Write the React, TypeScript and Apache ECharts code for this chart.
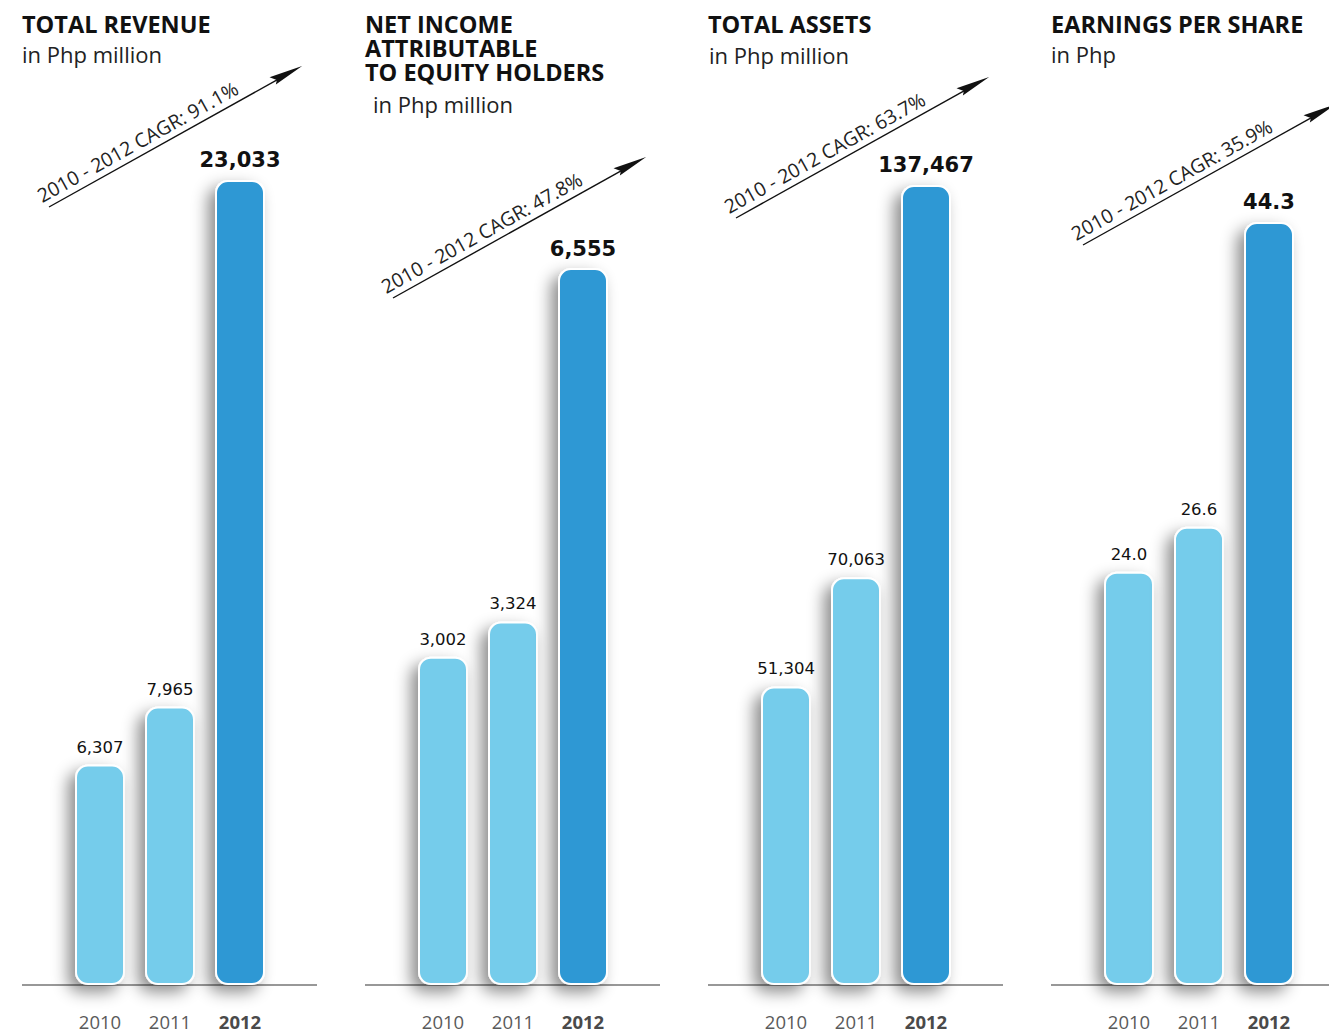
import React, { useEffect, useRef } from "react";
import * as echarts from "echarts";

// ---- data ----
const categories = ["2010", "2011", "2012"];
const totalRevenue = [6307, 7965, 23033];
const netIncome = [3002, 3324, 6555];
const totalAssets = [51304, 70063, 137467];
const earningsPerShare = [24.0, 26.6, 44.3];
const seriesValues = [totalRevenue, netIncome, totalAssets, earningsPerShare];
const decimals = [0, 0, 0, 1];
const axisMax = [23891, 7634, 143481, 48.48];
const titles = [
  ["TOTAL REVENUE"],
  ["NET INCOME", "ATTRIBUTABLE", "TO EQUITY HOLDERS"],
  ["TOTAL ASSETS"],
  ["EARNINGS PER SHARE"],
];
const subtitles = ["in Php million", "in Php million", "in Php million", "in Php"];
const cagrLabels = [
  "2010 - 2012 CAGR: 91.1%",
  "2010 - 2012 CAGR: 47.8%",
  "2010 - 2012 CAGR: 63.7%",
  "2010 - 2012 CAGR: 35.9%",
];

// ---- layout ----
const W = 1329;
const H = 1034;
const PANEL_X = [22, 365, 708, 1051];
const BASE_Y = 985;
const GRID_TOP = 150;
const SUB_Y = [53.5, 103.5, 54.5, 53.5];
const SUB_DX = [0, 8, 1, 0];
const ARROW_START = [
  [49, 207],
  [393, 298],
  [736, 218],
  [1083, 245],
];
const ARROW_DX = 253;
const ARROW_DY = 141;
const LIGHT = "#74CCEB";
const DARK = "#2E98D4";

function fmt(v: number, d: number) {
  return Number(v).toLocaleString("en-US", {
    minimumFractionDigits: d,
    maximumFractionDigits: d,
  });
}

export default function App() {
  const ref = useRef<HTMLDivElement>(null);
  useEffect(() => {
    if (!ref.current) return;
    const chart = echarts.init(ref.current, null, { renderer: "svg" });
    const ang = Math.atan2(ARROW_DY, ARROW_DX);
    const L = Math.sqrt(ARROW_DX * ARROW_DX + ARROW_DY * ARROW_DY);

    const graphic: any[] = [];
    PANEL_X.forEach((px, i) => {
      graphic.push({
        type: "text",
        x: px,
        y: 11.5,
        style: {
          text: titles[i].join("\n"),
          fontFamily: "Open Sans",
          fontWeight: "bold",
          fontSize: 23.5,
          lineHeight: 24,
          fill: "#111",
          verticalAlign: "top",
        },
      });
      graphic.push({
        type: "text",
        x: px + SUB_DX[i],
        y: SUB_Y[i],
        style: {
          text: subtitles[i],
          fontFamily: "Open Sans",
          fontSize: 22,
          fill: "#222",
          verticalAlign: "middle",
        },
      });
      graphic.push({
        type: "line",
        z: 0,
        shape: { x1: px, y1: BASE_Y, x2: px + 295, y2: BASE_Y },
        style: { stroke: "#333", lineWidth: 1.2 },
      });
      graphic.push({
        type: "group",
        x: ARROW_START[i][0],
        y: ARROW_START[i][1],
        rotation: ang,
        children: [
          {
            type: "line",
            shape: { x1: 0, y1: 0, x2: L - 20, y2: 0 },
            style: { stroke: "#111", lineWidth: 1.4 },
          },
          {
            type: "polygon",
            shape: {
              points: [
                [L, 0],
                [L - 34, -6],
                [L - 29, 0],
                [L - 32, 3.5],
              ],
            },
            style: { fill: "#111" },
          },
          {
            type: "text",
            x: -4,
            y: -4,
            style: {
              text: cagrLabels[i],
              fontFamily: "Open Sans",
              fontSize: 19.5,
              fill: "#222",
              verticalAlign: "bottom",
            },
          },
        ],
      });
    });

    const option: any = {
      animation: false,
      grid: PANEL_X.map((px) => ({
        left: px + 43,
        width: 210,
        top: GRID_TOP,
        bottom: H - BASE_Y,
      })),
      xAxis: PANEL_X.map((_, i) => ({
        type: "category",
        gridIndex: i,
        data: categories,
        axisLine: { show: false },
        axisTick: { show: false },
        axisLabel: {
          margin: 27,
          formatter: (v: string, idx: number) =>
            idx === 2 ? `{b|${v}}` : `{a|${v}}`,
          rich: {
            a: { fontFamily: "Open Sans", fontSize: 18.5, color: "#5a5a5a" },
            b: {
              fontFamily: "Open Sans",
              fontSize: 18.5,
              fontWeight: "bold",
              color: "#4a4a4a",
            },
          },
        },
      })),
      yAxis: PANEL_X.map((_, i) => ({
        type: "value",
        gridIndex: i,
        min: 0,
        max: axisMax[i],
        show: false,
      })),
      series: seriesValues.map((vals, i) => ({
        type: "bar",
        xAxisIndex: i,
        yAxisIndex: i,
        barWidth: 50,
        z: 2,
        data: vals.map((v, j) => ({
          value: v,
          itemStyle: { color: j === 2 ? DARK : LIGHT },
          label:
            j === 2
              ? { fontSize: 21, fontWeight: "bold", color: "#111" }
              : undefined,
        })),
        itemStyle: {
          borderRadius: 12,
          borderColor: "#fff",
          borderWidth: 2,
          shadowBlur: 16,
          shadowColor: "rgba(0,0,0,0.45)",
          shadowOffsetX: -7,
          shadowOffsetY: 7,
        },
        label: {
          show: true,
          position: "top",
          distance: 9,
          fontFamily: "DejaVu Sans",
          fontSize: 16.5,
          color: "#111",
          formatter: (p: any) => fmt(p.value, decimals[i]),
        },
      })),
      graphic,
    };
    chart.setOption(option);
    return () => chart.dispose();
  }, []);
  return (
    <div
      ref={ref}
      style={{ position: "absolute", left: 0, top: 0, width: W, height: H, background: "#fff" }}
    />
  );
}
